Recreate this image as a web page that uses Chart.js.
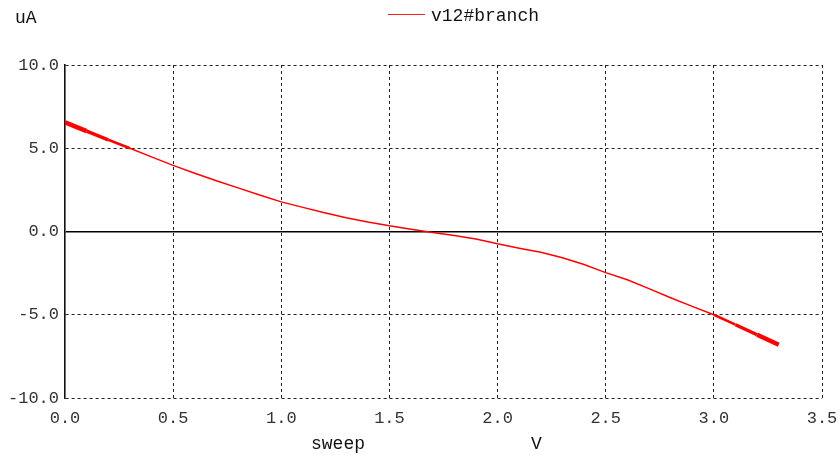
<!DOCTYPE html>
<html>
<head>
<meta charset="utf-8">
<script src="https://cdn.jsdelivr.net/npm/chart.js@4/dist/chart.umd.min.js"></script>
<style>
  html, body { margin: 0; padding: 0; background: #fff; }
  #wrap { position: relative; width: 839px; height: 455px; }
  #canvas { position: absolute; left: 0; top: 0; }
  .lbl { position: absolute; font-family: "Liberation Mono", monospace; font-size: 18px; line-height: 18px; color: #111; white-space: nowrap; }
  #legline { position: absolute; left: 388px; top: 14px; width: 37px; height: 0; border-top: 1.5px solid #ff2020; }
</style>
</head>
<body>
<div id="wrap">
  <canvas id="canvas" width="839" height="455"></canvas>
  <div class="lbl" style="left:15px; top:9px;">uA</div>
  <div id="legline"></div>
  <div class="lbl" style="left:431px; top:7px;">v12#branch</div>
  <div class="lbl" style="left:311px; top:435px;">sweep</div>
  <div class="lbl" style="left:531px; top:435px;">V</div>
</div>
<script>
const sweepV = [0.0, 0.1, 0.2, 0.3, 0.4, 0.5, 0.6, 0.7, 0.8, 0.9, 1.0, 1.1, 1.2, 1.3, 1.4, 1.5, 1.6,
                1.7, 1.8, 1.9, 2.0, 2.1, 2.2, 2.3, 2.4, 2.5, 2.6, 2.7, 2.8, 2.9, 3.0, 3.1, 3.2, 3.3]
const branchUA = [6.55, 6.03, 5.51, 5.0, 4.48, 3.97, 3.50, 3.05, 2.62, 2.19, 1.78, 1.45, 1.13, 0.83, 0.57, 0.34, 0.14,
                  -0.06, -0.24, -0.45, -0.74, -1.0, -1.25, -1.58, -1.98, -2.47, -2.9, -3.43, -3.98, -4.5, -5.0, -5.6, -6.2, -6.8]

const xTicks = [0.0, 0.5, 1.0, 1.5, 2.0, 2.5, 3.0, 3.5]
const yTicks = [-10.0, -5.0, 0.0, 5.0, 10.0]

const tickFont = { family: 'Liberation Mono', size: 17 }

// trace gets fuzzy (thicker) at both ends of the sweep
function segWidth(x) {
    if (x < 0.05) return 4.5
    if (x < 0.15) return 3.5
    if (x < 0.25) return 2.5
    if (x > 3.15) return 4.5
    if (x > 3.05) return 3.5
    if (x > 2.95) return 2.5
    return 1.5
}

const isZero = c => c.type === 'tick' && c.tick && c.tick.value === 0

const ctx = document.getElementById('canvas')

new Chart(ctx, {
    type: 'line',
    data: {
        datasets: [{
            label: 'v12#branch',
            data: sweepV.map((x, i) => ({ x: x, y: branchUA[i] })),
            borderColor: '#ff0000',
            borderWidth: 1.5,
            pointRadius: 0,
            tension: 0,
            fill: false,
            segment: {
                borderWidth: c => segWidth(c.p0.parsed.x),
            },
        }],
    },
    options: {
        responsive: false,
        animation: false,
        events: [],
        layout: { padding: { left: 0, top: 65, right: 17, bottom: 0 } },
        plugins: { legend: { display: false }, tooltip: { enabled: false } },
        scales: {
            x: {
                type: 'linear',
                min: xTicks[0],
                max: xTicks[xTicks.length - 1],
                afterBuildTicks: s => { s.ticks = xTicks.map(v => ({ value: v })) },
                afterFit: s => { s.height = 57; s.paddingLeft = 0; s.paddingRight = 0 },
                ticks: {
                    font: tickFont,
                    color: '#333',
                    padding: 10,
                    maxRotation: 0,
                    autoSkip: false,
                    callback: v => Number(v).toFixed(1),
                },
                // the 0 V line is covered by the solid left axis
                grid: { color: c => isZero(c) ? 'rgba(0,0,0,0)' : '#222', lineWidth: 1, drawTicks: false },
                border: { display: false, dash: [3, 3] },
            },
            y: {
                type: 'linear',
                min: yTicks[0],
                max: yTicks[yTicks.length - 1],
                afterBuildTicks: s => { s.ticks = yTicks.map(v => ({ value: v })) },
                afterFit: s => { s.width = 65; s.paddingTop = 0; s.paddingBottom = 0 },
                ticks: {
                    font: tickFont,
                    color: '#333',
                    padding: 6,
                    autoSkip: false,
                    callback: v => Number(v).toFixed(1),
                },
                grid: {
                    color: c => isZero(c) ? '#000' : '#222',
                    lineWidth: c => isZero(c) ? 1.6 : 1,
                    drawTicks: false,
                },
                border: {
                    display: true,
                    color: '#111',
                    width: 1.6,
                    dash: c => (isZero(c) || c.type === 'scale') ? [] : [3, 3],
                },
            },
        },
    },
})
</script>
</body>
</html>
